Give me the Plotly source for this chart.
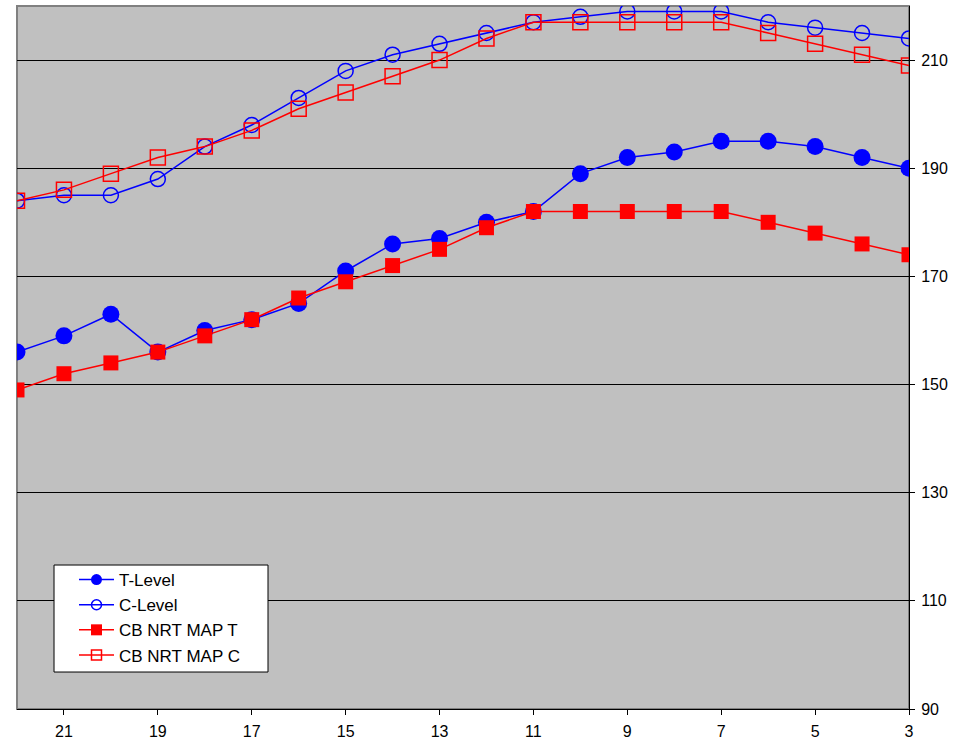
import plotly.graph_objects as go

x_vals = [22, 21, 20, 19, 18, 17, 16, 15, 14, 13, 12, 11, 10, 9, 8, 7, 6, 5, 4, 3]
t_level = [156, 159, 163, 156, 160, 162, 165, 171, 176, 177, 180, 182, 189, 192, 193, 195, 195, 194, 192, 190]
c_level = [184, 185, 185, 188, 194, 198, 203, 208, 211, 213, 215, 217, 218, 219, 219, 219, 217, 216, 215, 214]
cb_t = [149, 152, 154, 156, 159, 162, 166, 169, 172, 175, 179, 182, 182, 182, 182, 182, 180, 178, 176, 174]
cb_c = [184, 186, 189, 192, 194, 197, 201, 204, 207, 210, 214, 217, 217, 217, 217, 217, 215, 213, 211, 209]

x_ticks = [21, 19, 17, 15, 13, 11, 9, 7, 5, 3]
y_ticks = [90, 110, 130, 150, 170, 190, 210]

BLUE = "#0000FF"
RED = "#FF0000"

series = [
    ("T-Level", t_level, BLUE, "circle", 17, 11),
    ("C-Level", c_level, BLUE, "circle-open", 15, 10),
    ("CB NRT MAP T", cb_t, RED, "square", 15, 11),
    ("CB NRT MAP C", cb_c, RED, "square-open", 15, 10),
]

fig = go.Figure()
for name, vals, col, sym, msize, lsize in series:
    open_ = sym.endswith("open")
    fig.add_trace(go.Scatter(x=x_vals, y=vals, name=name, mode="lines+markers",
                             showlegend=False,
                             line=dict(color=col, width=1.5),
                             marker=dict(symbol=sym, size=msize, color=col,
                                         line=dict(width=1.5 if open_ else 0, color=col))))
for name, vals, col, sym, msize, lsize in series:
    open_ = sym.endswith("open")
    fig.add_trace(go.Scatter(x=[None], y=[None], name=name, mode="lines+markers",
                             showlegend=True,
                             line=dict(color=col, width=1.5),
                             marker=dict(symbol=sym, size=lsize, color=col,
                                         line=dict(width=1.5 if open_ else 0, color=col))))

fig.update_layout(
    width=954, height=746,
    margin=dict(l=17, r=45, t=6, b=37),
    paper_bgcolor="white",
    plot_bgcolor="#C0C0C0",
    font=dict(family="Arial, Liberation Sans, sans-serif", size=16, color="black"),
    showlegend=True,
    legend=dict(x=0.0639, y=0.209, xanchor="left", yanchor="top",
                bgcolor="rgba(0,0,0,0)", borderwidth=0,
                font=dict(size=17), itemsizing="trace", itemwidth=35, tracegroupgap=0),
    xaxis=dict(range=[22, 3], tickvals=x_ticks, ticks="outside", ticklen=5, tickcolor="black",
               ticklabelstandoff=3,
               showgrid=False, zeroline=False, showline=True, linecolor="black", linewidth=1),
    yaxis=dict(range=[90, 220], tickvals=y_ticks, side="right", ticks="outside", ticklen=5,
               tickcolor="black", ticklabelstandoff=3,
               showgrid=True, gridcolor="black", gridwidth=1,
               zeroline=False, showline=True, linecolor="black", linewidth=1),
    shapes=[
        dict(type="rect", xref="paper", yref="paper", x0=0, x1=1, y0=0, y1=1,
             line=dict(color="#808080", width=2), layer="below"),
        dict(type="rect", xref="paper", yref="paper", x0=0.0415, x1=0.2814, y0=0.0526, y1=0.2048,
             fillcolor="white", line=dict(color="black", width=1), layer="above"),
    ],
)

fig.write_html("out.html")
